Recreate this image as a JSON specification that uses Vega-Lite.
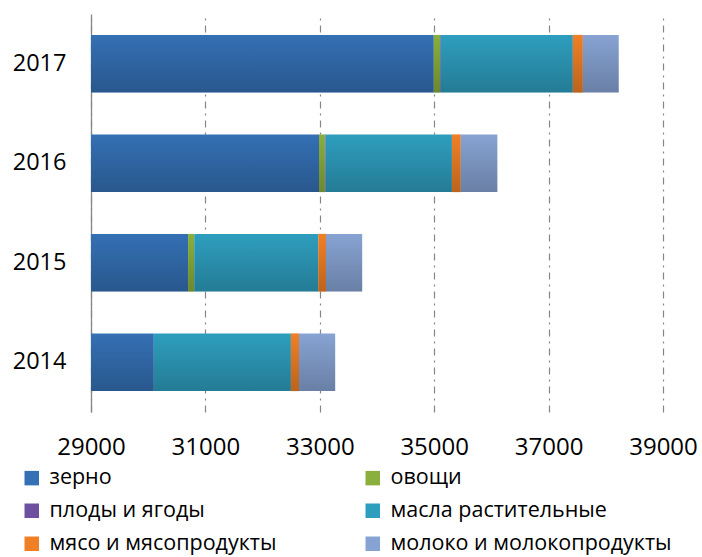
{
  "$schema": "https://vega.github.io/schema/vega-lite/v6.json",
  "width": 572,
  "height": 398,
  "autosize": "none",
  "padding": {"left": 91, "top": 14, "right": 39, "bottom": 145},
  "background": "white",
  "config": {
    "view": {"stroke": null},
    "font": "Open Sans",
    "text": {"font": "Open Sans"}
  },
  "data": {
    "values": [
      {"year": "2017", "cat": "зерно", "k": 1, "v": 34993},
      {"year": "2017", "cat": "овощи", "k": 2, "v": 108},
      {"year": "2017", "cat": "плоды и ягоды", "k": 3, "v": 13},
      {"year": "2017", "cat": "масла растительные", "k": 4, "v": 2310},
      {"year": "2017", "cat": "мясо и мясопродукты", "k": 5, "v": 175},
      {"year": "2017", "cat": "молоко и молокопродукты", "k": 6, "v": 627},
      {"year": "2016", "cat": "зерно", "k": 1, "v": 32986},
      {"year": "2016", "cat": "овощи", "k": 2, "v": 102},
      {"year": "2016", "cat": "плоды и ягоды", "k": 3, "v": 13},
      {"year": "2016", "cat": "масла растительные", "k": 4, "v": 2209},
      {"year": "2016", "cat": "мясо и мясопродукты", "k": 5, "v": 155},
      {"year": "2016", "cat": "молоко и молокопродукты", "k": 6, "v": 639},
      {"year": "2015", "cat": "зерно", "k": 1, "v": 30697},
      {"year": "2015", "cat": "овощи", "k": 2, "v": 108},
      {"year": "2015", "cat": "плоды и ягоды", "k": 3, "v": 0},
      {"year": "2015", "cat": "масла растительные", "k": 4, "v": 2168},
      {"year": "2015", "cat": "мясо и мясопродукты", "k": 5, "v": 135},
      {"year": "2015", "cat": "молоко и молокопродукты", "k": 6, "v": 633},
      {"year": "2014", "cat": "зерно", "k": 1, "v": 30098},
      {"year": "2014", "cat": "овощи", "k": 2, "v": 0},
      {"year": "2014", "cat": "плоды и ягоды", "k": 3, "v": 0},
      {"year": "2014", "cat": "масла растительные", "k": 4, "v": 2397},
      {"year": "2014", "cat": "мясо и мясопродукты", "k": 5, "v": 141},
      {"year": "2014", "cat": "молоко и молокопродукты", "k": 6, "v": 633}
    ]
  },
  "encoding": {
    "y": {
      "field": "year",
      "type": "nominal",
      "sort": ["2017", "2016", "2015", "2014"],
      "scale": {"paddingInner": 0.42, "paddingOuter": 0.21},
      "axis": {
        "title": null,
        "domain": true,
        "domainColor": "#868686",
        "domainWidth": 1.3,
        "ticks": false,
        "grid": false,
        "labelFontSize": 23.5,
        "labelColor": "#000000",
        "labelPadding": 25,
        "labelFont": "Open Sans"
      }
    },
    "x": {
      "field": "v",
      "type": "quantitative",
      "stack": "zero",
      "scale": {"domain": [29000, 39000], "nice": false, "zero": false},
      "axis": {
        "title": null,
        "values": [29000, 31000, 33000, 35000, 37000, 39000],
        "format": "d",
        "domain": false,
        "ticks": false,
        "grid": true,
        "gridColor": "#868686",
        "gridWidth": 1.2,
        "gridDash": [7, 5, 2, 5],
        "labelFontSize": 24,
        "labelColor": "#000000",
        "labelPadding": 23,
        "labelFont": "Open Sans",
        "labelFlush": false,
        "labelOverlap": false
      }
    },
    "order": {"field": "k", "type": "quantitative"}
  },
  "layer": [
    {
      "mark": {"type": "bar", "clip": true},
      "encoding": {
        "color": {
          "field": "cat",
          "type": "nominal",
          "scale": {
            "domain": ["зерно", "овощи", "плоды и ягоды", "масла растительные", "мясо и мясопродукты", "молоко и молокопродукты"],
            "range": ["#3470b4", "#8aaf3c", "#6e50a0", "#2e9ebe", "#f08026", "#87a3d3"]
          },
          "legend": {
            "title": null,
            "orient": "none",
            "legendX": -70,
            "legendY": 453,
            "columns": 2,
            "direction": "horizontal",
            "symbolType": "square",
            "symbolSize": 210,
            "symbolStrokeWidth": 0,
            "labelFontSize": 21.5,
            "labelFont": "Open Sans",
            "labelColor": "#000000",
            "labelOffset": 7,
            "rowPadding": 10,
            "columnPadding": 85,
            "labelLimit": 400
          }
        }
      }
    },
    {
      "mark": {
        "type": "bar",
        "clip": true,
        "color": {
          "gradient": "linear",
          "x1": 0, "y1": 0, "x2": 0, "y2": 1,
          "stops": [
            {"offset": 0, "color": "rgba(0,0,0,0)"},
            {"offset": 1, "color": "rgba(0,0,0,0.22)"}
          ]
        }
      }
    }
  ]
}
